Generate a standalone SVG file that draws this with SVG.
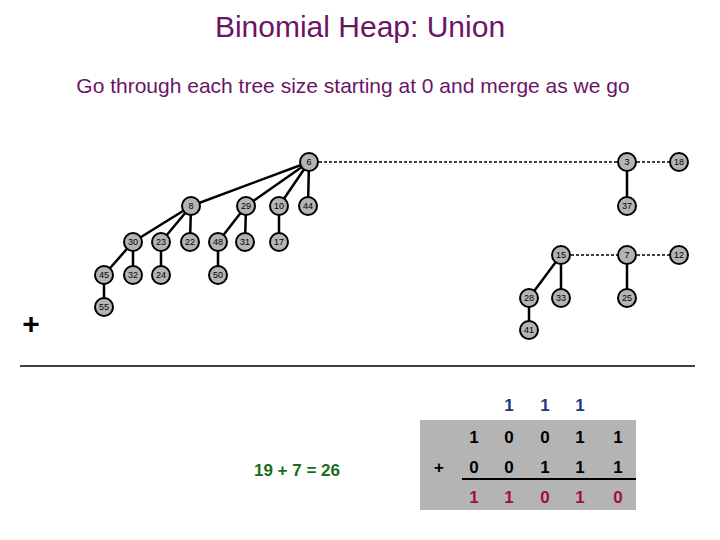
<svg xmlns="http://www.w3.org/2000/svg" width="720" height="540" viewBox="0 0 720 540">
<style>
.n circle{fill:#b4b4b4;stroke:#000;stroke-width:2}
.n text{font:9px "Liberation Sans",sans-serif;text-anchor:middle;fill:#000}
.e{stroke:#000;stroke-width:2.5;fill:none}
.d{stroke:#000;stroke-width:1.5;stroke-dasharray:3,2;fill:none}
.b{font:bold 17px "Liberation Sans",sans-serif;text-anchor:middle}
</style>
<rect width="720" height="540" fill="#fff"/>
<text x="360" y="37" font-family="Liberation Sans,sans-serif" font-size="30" fill="#6b1466" text-anchor="middle">Binomial Heap:  Union</text>
<text x="353" y="93" font-family="Liberation Sans,sans-serif" font-size="21" fill="#6b1466" text-anchor="middle">Go through each tree size starting at 0 and merge as we go</text>
<g id="connectors">
<path class="d" d="M309 162H627M627 162H679M561 255H627M627 255H679"/>
<path class="e" d="M309 162L191 206M309 162L246 206M309 162L279 206M309 162L308 206M191 206L133 242M191 206L161 242M191 206L190 242M246 206L218 242M246 206L245 242M279 206L279 242M133 242L104 275M133 242L133 275M161 242L161 275M218 242L218 275M104 275L104 307M627 162L627 206M561 255L529 298M561 255L561 298M529 298L529 330M627 255L627 298"/>
</g>
<g id="n6" class="n"><circle cx="309" cy="162" r="9"/><text x="309" y="165">6</text></g>
<g id="n8" class="n"><circle cx="191" cy="206" r="9"/><text x="191" y="209">8</text></g>
<g id="n29" class="n"><circle cx="246" cy="206" r="9"/><text x="246" y="209">29</text></g>
<g id="n10" class="n"><circle cx="279" cy="206" r="9"/><text x="279" y="209">10</text></g>
<g id="n44" class="n"><circle cx="308" cy="206" r="9"/><text x="308" y="209">44</text></g>
<g id="n30" class="n"><circle cx="133" cy="242" r="9"/><text x="133" y="245">30</text></g>
<g id="n23" class="n"><circle cx="161" cy="242" r="9"/><text x="161" y="245">23</text></g>
<g id="n22" class="n"><circle cx="190" cy="242" r="9"/><text x="190" y="245">22</text></g>
<g id="n48" class="n"><circle cx="218" cy="242" r="9"/><text x="218" y="245">48</text></g>
<g id="n31" class="n"><circle cx="245" cy="242" r="9"/><text x="245" y="245">31</text></g>
<g id="n17" class="n"><circle cx="279" cy="242" r="9"/><text x="279" y="245">17</text></g>
<g id="n45" class="n"><circle cx="104" cy="275" r="9"/><text x="104" y="278">45</text></g>
<g id="n32" class="n"><circle cx="133" cy="275" r="9"/><text x="133" y="278">32</text></g>
<g id="n24" class="n"><circle cx="161" cy="275" r="9"/><text x="161" y="278">24</text></g>
<g id="n50" class="n"><circle cx="218" cy="275" r="9"/><text x="218" y="278">50</text></g>
<g id="n55" class="n"><circle cx="104" cy="307" r="9"/><text x="104" y="310">55</text></g>
<g id="n3" class="n"><circle cx="627" cy="162" r="9"/><text x="627" y="165">3</text></g>
<g id="n18" class="n"><circle cx="679" cy="162" r="9"/><text x="679" y="165">18</text></g>
<g id="n37" class="n"><circle cx="627" cy="206" r="9"/><text x="627" y="209">37</text></g>
<g id="n15" class="n"><circle cx="561" cy="255" r="9"/><text x="561" y="258">15</text></g>
<g id="n7" class="n"><circle cx="627" cy="255" r="9"/><text x="627" y="258">7</text></g>
<g id="n12" class="n"><circle cx="679" cy="255" r="9"/><text x="679" y="258">12</text></g>
<g id="n28" class="n"><circle cx="529" cy="298" r="9"/><text x="529" y="301">28</text></g>
<g id="n33" class="n"><circle cx="561" cy="298" r="9"/><text x="561" y="301">33</text></g>
<g id="n25" class="n"><circle cx="627" cy="298" r="9"/><text x="627" y="301">25</text></g>
<g id="n41" class="n"><circle cx="529" cy="330" r="9"/><text x="529" y="333">41</text></g>
<text x="31" y="334" font-family="Liberation Sans,sans-serif" font-size="30" font-weight="bold" text-anchor="middle">+</text>
<line x1="20" y1="366" x2="695" y2="366" stroke="#000" stroke-width="1.5"/>
<text x="297" y="476" font-family="Liberation Sans,sans-serif" font-size="17" font-weight="bold" fill="#1a6b1a" text-anchor="middle">19 + 7 = 26</text>
<rect x="420" y="420" width="216" height="90" fill="#b4b4b4"/>
<line x1="462" y1="479" x2="636" y2="479" stroke="#000" stroke-width="2"/>
<g class="b" fill="#1a3a80"><text x="509" y="411">1</text><text x="545" y="411">1</text><text x="580" y="411">1</text></g>
<g class="b" fill="#000"><text x="474" y="443">1</text><text x="509" y="443">0</text><text x="545" y="443">0</text><text x="580" y="443">1</text><text x="618" y="443">1</text>
<text x="439" y="473">+</text><text x="474" y="473">0</text><text x="509" y="473">0</text><text x="545" y="473">1</text><text x="580" y="473">1</text><text x="618" y="473">1</text></g>
<g class="b" fill="#a0103a"><text x="474" y="503">1</text><text x="509" y="503">1</text><text x="545" y="503">0</text><text x="580" y="503">1</text><text x="618" y="503">0</text></g>
</svg>
